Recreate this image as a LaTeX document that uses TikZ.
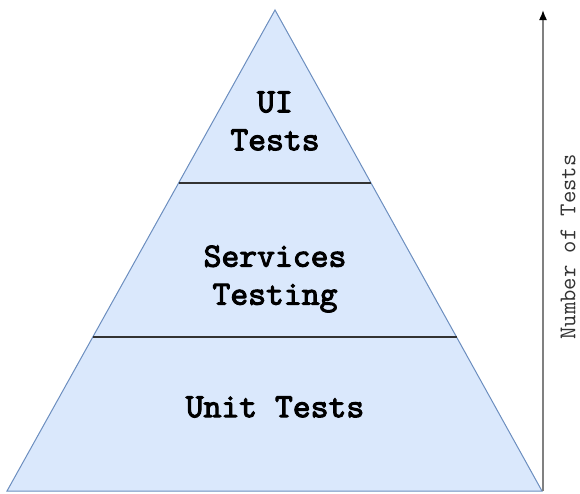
\documentclass[tikz,border=0pt]{standalone}
\usepackage{fontspec}
\newfontfamily\layerfont{lmmono10-regular.otf}[FakeBold=3]
\usetikzlibrary{arrows.meta, positioning, calc}
\definecolor{layerfill}{HTML}{DAE8FC}
\definecolor{layeredge}{HTML}{6C8EBF}

\begin{document}
\begin{tikzpicture}[x=1pt, y=-1pt,
    layer/.style={font=\layerfont\fontsize{34}{38}\selectfont, align=center},
    divider/.style={draw=black!80, line width=1.6pt}]
        \useasboundingbox (0,0) rectangle (580,493);
        \coordinate (top) at (275,10);
        \coordinate (bl) at (7,491);
        \coordinate (br) at (542,491);
        \filldraw[fill=layerfill, draw=layeredge, line width=1pt] (top) -- (br) -- (bl) -- cycle;
        \coordinate (l1) at ($(top)!0.36!(bl)$);
        \coordinate (r1) at ($(top)!0.36!(br)$);
        \coordinate (l2) at ($(top)!0.68!(bl)$);
        \coordinate (r2) at ($(top)!0.68!(br)$);
        \draw[divider] (l1) -- (r1);
        \draw[divider] (l2) -- (r2);
        \node[layer] (ui) at (275,121) {UI\\Tests};
        \node[layer] (svc) at (275,279) {Services\\Testing};
        \node[layer] (unit) at (275,407) {Unit Tests};
        \coordinate (ax0) at (543,491);
        \coordinate (ax1) at (543,10);
        \draw[draw=black!50, line width=1.6pt, -{Latex[color=black, length=10pt, width=8pt]}] (ax0) -- (ax1);
        \node[rotate=90, inner sep=0pt, font=\ttfamily\fontsize{24}{28}\selectfont, text=black!80] (count) at (568,247) {Number of Tests};
\end{tikzpicture}
\end{document}
